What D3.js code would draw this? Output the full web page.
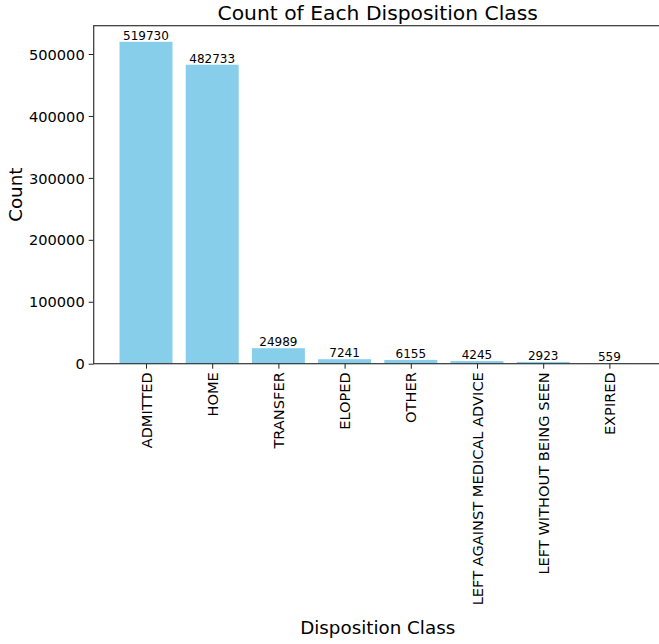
<!DOCTYPE html>
<html><head><meta charset="utf-8">
<script src="https://cdn.jsdelivr.net/npm/d3@7/dist/d3.min.js"></script>
<style>
body{margin:0;background:#fff;}
text{font-family:"DejaVu Sans",sans-serif;fill:#000;}
</style></head>
<body><svg id="c" width="659" height="644"></svg>
<script>
const categories = ["ADMITTED","HOME","TRANSFER","ELOPED","OTHER","LEFT AGAINST MEDICAL ADVICE","LEFT WITHOUT BEING SEEN","EXPIRED"];
const counts = [519730, 482733, 24989, 7241, 6155, 4245, 2923, 559];
const yTicks = [0, 100000, 200000, 300000, 400000, 500000];
const title = "Count of Each Disposition Class";
const xLabel = "Disposition Class";
const yLabel = "Count";

const svg = d3.select("#c");
const L = 93.7, R = 661.7, T = 25.7, B = 363.7;
const n = categories.length;
const x = d3.scaleLinear().domain([-0.79, n - 1 + 0.79]).range([L, R]);
const ymax = d3.max(counts) * 1.05;
const y = d3.scaleLinear().domain([0, ymax]).range([B, T]);
const bw = x(0.8) - x(0);

svg.append("g").selectAll("rect").data(counts).join("rect")
  .attr("x", (d,i) => x(i) - bw/2)
  .attr("width", bw)
  .attr("y", d => y(d))
  .attr("height", d => B - y(d))
  .attr("fill", "#87CEEB");

svg.append("g").selectAll("text").data(counts).join("text")
  .attr("x", (d,i) => x(i))
  .attr("y", d => y(d) - 2)
  .attr("text-anchor", "middle")
  .style("font-size", "12px")
  .text(d => d);

// y axis
const yAxis = d3.axisLeft(y).tickValues(yTicks).tickSize(5).tickPadding(4).tickFormat(d3.format("d"));
const ga = svg.append("g").attr("transform", `translate(${L},0)`).call(yAxis)
  .attr("font-size", null).attr("font-family", null);
ga.select(".domain").remove();
ga.selectAll("line").attr("stroke", "#222").attr("stroke-width", 1);
ga.selectAll("text").style("font-size", "14.6px").style("font-family", "DejaVu Sans").style("fill", "#000").attr("dy", "0.35em");

// x axis
const xAxis = d3.axisBottom(x).tickValues(d3.range(n)).tickSize(5).tickFormat(i => categories[i]);
const gx = svg.append("g").attr("transform", `translate(0,${B})`).call(xAxis)
  .attr("font-size", null).attr("font-family", null);
gx.select(".domain").remove();
gx.selectAll("line").attr("stroke", "#222").attr("stroke-width", 1);
gx.selectAll("text")
  .style("font-size", "14.6px").style("font-family", "DejaVu Sans").style("fill", "#000")
  .attr("transform", "rotate(-90)")
  .attr("x", -8.5).attr("y", 0).attr("dy", "0.35em")
  .attr("text-anchor", "end");

// spines
svg.append("rect").attr("x", L).attr("y", T).attr("width", R - L).attr("height", B - T)
  .attr("fill", "none").attr("stroke", "#333").attr("stroke-width", 1.2);

svg.append("text").attr("x", (L+R)/2).attr("y", 19.5).attr("text-anchor", "middle")
  .style("font-size", "20.3px").text(title);
svg.append("text").attr("x", (L+R)/2).attr("y", 634).attr("text-anchor", "middle")
  .style("font-size", "18.3px").text(xLabel);
svg.append("text").attr("transform", `translate(22,${(T+B)/2}) rotate(-90)`).attr("text-anchor", "middle")
  .style("font-size", "18.3px").text(yLabel);
</script></body></html>
